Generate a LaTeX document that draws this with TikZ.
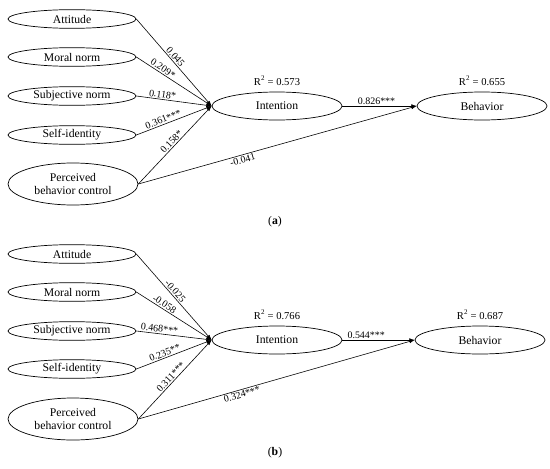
\documentclass[tikz,border=0pt]{standalone}
\usepackage{fontspec}
\setmainfont{Liberation Serif}
\usetikzlibrary{arrows.meta,positioning,shapes.geometric}

\begin{document}
\begin{tikzpicture}[x=0.3mm,y=-0.3mm,font=\fontsize{10}{11.5}\selectfont,
 construct/.style={draw,ellipse,line width=0.6pt,inner sep=0pt,minimum width=38.4mm,minimum height=5.6mm,align=center},
 pbcbox/.style={construct,minimum width=39mm,minimum height=12.6mm},
 outcome/.style={construct,minimum width=39mm,minimum height=8.4mm},
 arr/.style={-{Latex[length=1.6mm,width=1.1mm]},line width=0.5pt},
 coef/.style={font=\fontsize{8.5}{9}\selectfont,sloped,inner sep=1pt},
 rsq/.style={font=\fontsize{9}{10}\selectfont,above=0.6mm}]
\useasboundingbox (0,0) rectangle (550,468);

\node[construct] (attA) at (72,19) {Attitude};
\node[construct] (moralA) at (72,57) {Moral norm};
\node[construct] (subjA) at (72,96) {Subjective norm};
\node[construct] (selfA) at (72,135) {Self-identity};
\node[pbcbox] (pbcA) at (73,184) {Perceived\\behavior control};
\node[outcome] (intA) at (277,106) {Intention};
\node[outcome] (behA) at (482,106) {Behavior};
\node[rsq] at (intA.north) {R\textsuperscript{2} = 0.573};
\node[rsq] at (behA.north) {R\textsuperscript{2} = 0.655};
\draw[arr] (attA.east) -- node[coef,above,pos=.47]{0.045} (intA.west);
\draw[arr] (moralA.east) -- node[coef,above,pos=.32]{0.209*} (intA.west);
\draw[arr] (subjA.east) -- node[coef,above,pos=.34]{0.118*} (intA.west);
\draw[arr] (selfA.east) -- node[coef,above,pos=.38]{0.361***} (intA.west);
\draw[arr] (pbcA.east) -- node[coef,above,pos=.5]{0.158*} (intA.west);
\draw[arr] (intA.east) -- node[coef,above,pos=.46]{0.826***} (behA.west);
\draw[arr] (pbcA.east) -- node[coef,below,pos=.37]{-0.041} (behA.west);
\node (capA) at (275,222) {(\textbf{a})};

\begin{scope}[shift={(0,235)}]
\node[construct] (attB) at (72,19) {Attitude};
\node[construct] (moralB) at (72,57) {Moral norm};
\node[construct] (subjB) at (72,96) {Subjective norm};
\node[construct] (selfB) at (72,134) {Self-identity};
\node[pbcbox] (pbcB) at (73,184) {Perceived\\behavior control};
\node[outcome] (intB) at (277,105) {Intention};
\node[outcome] (behB) at (480,105) {Behavior};
\node[rsq] at (intB.north) {R\textsuperscript{2} = 0.766};
\node[rsq] at (behB.north) {R\textsuperscript{2} = 0.687};
\draw[arr] (attB.east) -- node[coef,above,pos=.47]{-0.025} (intB.west);
\draw[arr] (moralB.east) -- node[coef,above,pos=.34]{-0.058} (intB.west);
\draw[arr] (subjB.east) -- node[coef,above,pos=.3]{0.468***} (intB.west);
\draw[arr] (selfB.east) -- node[coef,above,pos=.4]{0.235**} (intB.west);
\draw[arr] (pbcB.east) -- node[coef,above,pos=.49]{0.311***} (intB.west);
\draw[arr] (intB.east) -- node[coef,above,pos=.33]{0.544***} (behB.west);
\draw[arr] (pbcB.east) -- node[coef,below,pos=.37]{0.324***} (behB.west);
\node (capB) at (275,218) {(\textbf{b})};
\end{scope}
\end{tikzpicture}
\end{document}
